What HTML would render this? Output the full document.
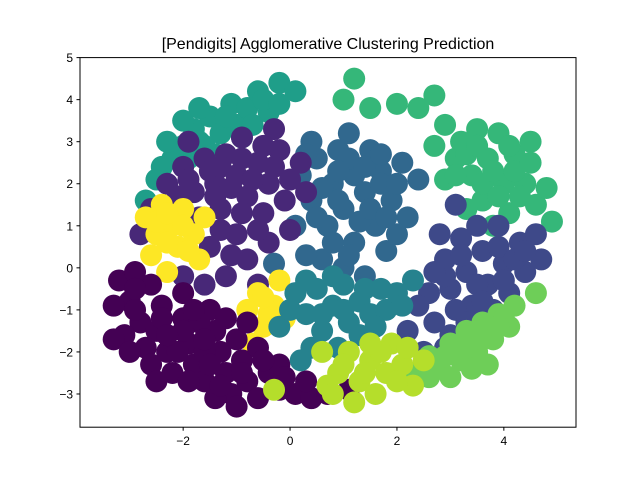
<!DOCTYPE html>
<html><head><meta charset="utf-8"><style>
body{margin:0;background:#fff;}
svg{display:block;font-family:"Liberation Sans","DejaVu Sans",sans-serif;}
</style></head><body>
<svg id="chart" width="640" height="480">
<rect x="0" y="0" width="640" height="480" fill="#fff"/>
<text x="328" y="49" text-anchor="middle" font-size="16" fill="#000">[Pendigits] Agglomerative Clustering Prediction</text>
<g id="points"></g>
<rect x="80" y="57.6" width="496" height="369.6" fill="none" stroke="#000" stroke-width="1"/>
<g id="axes"></g>
</svg>
<script>
const xTicks=[-2,0,2,4];
const yTicks=[-3,-2,-1,0,1,2,3,4,5];
const clusterColors=["#440154","#482878","#3e4989","#31688e","#26828e","#1f9e89","#35b779","#6ece58","#b5de2b","#fde725"];
const drawOrder=[5,6,3,1,9,0,2,4,7,8];
const c0=[[-3.2,-0.3],[-3.0,-0.8],[-2.8,-1.3],[-3.1,-1.6],[-2.6,-0.4],[-2.4,-0.9],[-2.5,-1.5],[-2.3,-2.0],[-2.0,-0.6],[-2.0,-1.2],[-1.9,-1.8],[-1.8,-2.3],[-1.6,-2.7],[-1.5,-1.0],[-1.4,-1.5],[-1.3,-2.0],[-1.2,-2.5],[-1.1,-3.0],[-0.9,-2.2],[-0.8,-2.7],[-0.6,-3.1],[-0.4,-2.5],[-0.2,-2.9],[0.1,-3.0],[0.4,-3.1],[-2.7,-1.9],[-2.2,-2.5],[-1.7,-1.3],[-1.0,-1.7],[-2.9,-0.1],[-3.3,-0.9],[-1.0,-3.3],[-1.4,-3.1],[0.7,-3.0],[-0.6,-1.9],[-2.6,-2.3],[-3.3,-1.7],[-0.2,-2.3],[1.1,-2.9],[-1.9,-2.7],
[-2.9,-1.0],[-2.4,-1.2],[-2.0,-1.5],[-1.6,-2.0],[-1.5,-2.3],[-2.1,-2.0],[-1.2,-1.2],[-0.8,-1.3],[-0.5,-2.2],[-0.9,-2.5],[-1.3,-2.8],[-1.8,-1.0],[-2.5,-2.7],[-3.0,-2.0],[-2.9,-0.5],[-0.1,-2.6],[0.3,-2.7],[-1.6,-1.7],[-2.3,-1.6]];
const c1=[[-2.3,2.0],[-2.0,2.4],[-1.8,1.8],[-1.6,2.6],[-1.4,2.0],[-1.2,2.7],[-1.0,2.2],[-0.8,1.7],[-0.6,2.5],[-0.4,2.0],[-0.2,2.8],[-0.5,1.3],[-1.3,1.4],[-1.0,0.8],[-0.8,0.2],[-1.2,-0.2],[-1.5,0.5],[-0.3,3.3],[0.2,2.5],[-0.1,1.6],[-1.7,1.2],[-2.6,1.4],[-0.9,3.1],[-0.4,0.6],[-1.6,-0.4],[-2.0,-0.2],[-2.8,0.8],[-0.6,-0.4],[0.0,0.9],[-1.9,3.0],[0.3,1.8],
[-1.9,2.1],[-1.5,2.3],[-1.1,1.9],[-0.7,2.1],[-0.3,2.4],[-0.9,2.6],[-1.4,1.7],[-0.9,1.3],[-0.6,0.9],[-1.1,0.3],[-1.3,0.9],[-2.1,1.7],[0.0,2.1],[-0.5,2.9],[-1.3,2.4]];
const c2=[[2.6,-0.6],[2.9,0.2],[3.0,-0.5],[3.2,0.7],[3.3,-0.1],[3.4,-0.9],[3.6,0.4],[3.7,-0.4],[3.9,1.0],[4.0,0.1],[4.1,-0.6],[4.3,0.6],[4.4,-0.1],[4.6,0.8],[2.7,-1.3],[3.0,-1.6],[2.4,-0.9],[3.5,1.0],[3.8,-1.0],[2.5,-2.0],[2.8,0.8],[4.7,0.2],[3.1,1.5],[2.2,-1.5],
[2.9,-0.2],[3.2,0.3],[3.5,-0.4],[3.9,0.5],[4.2,0.2],[3.6,-0.8],[3.1,-1.0],[2.7,-0.1],[4.0,-0.3],[3.3,-1.3],[4.4,0.4],[2.9,-1.9]];
const c3=[[0.2,2.2],[0.4,1.6],[0.5,2.6],[0.7,1.0],[0.8,2.0],[0.9,2.8],[1.0,1.4],[1.2,0.6],[1.2,2.2],[1.4,1.8],[1.5,2.8],[1.6,1.0],[1.7,2.3],[1.8,0.4],[1.9,1.6],[2.1,2.5],[2.2,1.2],[0.6,0.2],[1.0,0.0],[1.4,-0.2],[0.1,1.0],[0.3,0.3],[0.4,3.0],[2.4,2.1],[1.1,3.2],[-0.3,0.1],
[0.6,1.9],[0.9,1.6],[1.1,2.6],[1.3,1.1],[1.5,1.4],[1.7,2.0],[2.0,2.0],[1.8,1.2],[0.8,0.6],[0.5,1.2],[1.4,2.4],[2.0,0.8],[1.1,0.3],[0.3,2.7],[1.7,2.7],[0.9,2.3]];
const c4=[[0.1,-0.6],[0.3,-1.1],[0.5,-0.5],[0.6,-1.5],[0.8,-0.9],[1.0,-0.4],[1.1,-1.3],[1.3,-0.8],[1.5,-1.1],[1.7,-0.5],[1.8,-1.0],[2.0,-0.6],[0.4,-1.9],[0.9,-1.9],[-0.2,-1.4],[0.2,-2.2],[1.3,-1.6],[2.3,-0.3],
[0.6,-1.1],[1.0,-1.0],[1.4,-0.5],[1.6,-1.4],[0.3,-0.3],[2.1,-0.9],[0.8,-0.2],[0.0,-1.0]];
const c5=[[-2.5,2.1],[-2.2,2.6],[-2.0,2.9],[-1.8,3.3],[-1.6,2.9],[-1.5,3.6],[-1.3,3.2],[-1.1,3.9],[-1.0,3.4],[-0.8,3.8],[-0.6,4.2],[-0.4,3.7],[-0.2,4.4],[-2.7,1.6],[-2.3,3.0],[-1.7,3.8],[-0.7,3.4],[0.1,4.2],[-2.0,3.5],
[-1.9,2.6],[-1.4,2.7],[-1.2,3.6],[-0.9,3.1],[-0.5,4.0],[-2.4,2.4],[-1.7,3.0],[-0.2,3.9]];
const c6=[[2.7,2.9],[2.9,3.4],[3.1,2.6],[3.2,3.0],[3.4,2.2],[3.5,3.3],[3.6,1.6],[3.7,2.6],[3.9,3.2],[4.0,2.0],[4.1,1.3],[4.2,2.7],[4.4,2.0],[4.5,3.0],[4.6,1.5],[3.8,1.0],[3.3,1.4],[2.9,2.1],[2.4,3.8],[2.0,3.9],[1.5,3.8],[1.0,4.0],[2.7,4.1],[1.2,4.5],[4.8,1.9],[4.9,1.1],
[3.3,2.7],[3.6,2.0],[3.8,2.3],[4.1,2.9],[4.3,1.7],[3.5,2.9],[4.2,2.3],[3.1,2.2],[3.9,1.7],[4.5,2.5]];
const c7=[[2.6,-2.1],[2.8,-2.4],[3.0,-1.8],[3.2,-2.2],[3.3,-1.5],[3.5,-2.0],[3.6,-1.3],[3.8,-1.7],[3.9,-1.1],[4.1,-1.4],[2.3,-2.5],[3.0,-2.6],[4.2,-0.9],[3.7,-2.3],[4.6,-0.6],
[2.9,-2.1],[3.3,-1.9],[3.6,-1.7],[4.0,-1.2],[3.4,-2.4],[2.6,-2.6],[3.9,-1.4]];
const c8=[[0.6,-2.0],[0.9,-2.5],[1.1,-2.0],[1.3,-2.7],[1.5,-2.2],[1.6,-3.0],[1.8,-2.5],[1.9,-1.8],[2.1,-2.3],[2.3,-2.8],[1.2,-3.2],[0.7,-2.8],[2.5,-2.2],[-0.3,-2.9],
[1.0,-2.3],[1.4,-2.5],[1.7,-2.0],[2.0,-2.7],[1.5,-1.8],[0.8,-3.0],[2.2,-1.9]];
const c9=[[-2.7,1.2],[-2.5,0.8],[-2.4,1.5],[-2.2,1.0],[-2.1,0.5],[-2.0,1.4],[-1.8,0.8],[-1.7,0.2],[-1.6,1.2],[-2.6,0.3],[-0.8,-1.0],[-0.6,-0.6],[-0.5,-1.4],[-0.3,-0.9],[-0.2,-0.3],[-0.1,-1.2],[-0.7,-1.8],[-2.3,-0.1],
[-2.5,1.1],[-2.3,0.6],[-2.0,1.0],[-1.9,0.4],[-2.3,1.3],[-0.4,-1.1],[-0.5,-0.7]];
const clusters=[c0,c1,c2,c3,c4,c5,c6,c7,c8,c9];
const NS="http://www.w3.org/2000/svg";
const L=80,R=576,T=57.6,B=427.2,xmin=-3.93,xmax=5.35,ymin=-3.79,ymax=5.0;
function sx(v){return L+(v-xmin)/(xmax-xmin)*(R-L);}
function sy(v){return B-(v-ymin)/(ymax-ymin)*(B-T);}
const pg=document.getElementById('points');
drawOrder.forEach(ci=>{
  clusters[ci].forEach((p,i)=>{
    const c=document.createElementNS(NS,'circle');
    c.setAttribute('cx',sx(p[0]));c.setAttribute('cy',sy(p[1]));
    c.setAttribute('r',11);c.setAttribute('fill',clusterColors[ci]);
    
    
    pg.appendChild(c);
  });
});
const ax=document.getElementById('axes');
xTicks.forEach(t=>{
  const x=sx(t);
  const l=document.createElementNS(NS,'line');
  l.setAttribute('x1',x);l.setAttribute('x2',x);l.setAttribute('y1',B);l.setAttribute('y2',B+3.5);l.setAttribute('stroke','#000');
  
  
  ax.appendChild(l);
  const tx=document.createElementNS(NS,'text');
  tx.setAttribute('x',x);tx.setAttribute('y',B+18);tx.setAttribute('text-anchor','middle');tx.setAttribute('font-size','12');
  tx.textContent=(t<0?'\u2212'+(-t):t);
  
  
  ax.appendChild(tx);
});
yTicks.forEach(t=>{
  const y=sy(t);
  const l=document.createElementNS(NS,'line');
  l.setAttribute('x1',L-3.5);l.setAttribute('x2',L);l.setAttribute('y1',y);l.setAttribute('y2',y);l.setAttribute('stroke','#000');
  
  
  ax.appendChild(l);
  const tx=document.createElementNS(NS,'text');
  tx.setAttribute('x',L-7);tx.setAttribute('y',y+4.5);tx.setAttribute('text-anchor','end');tx.setAttribute('font-size','12');
  tx.textContent=(t<0?'\u2212'+(-t):t);
  
  
  ax.appendChild(tx);
});
</script>
</body></html>
